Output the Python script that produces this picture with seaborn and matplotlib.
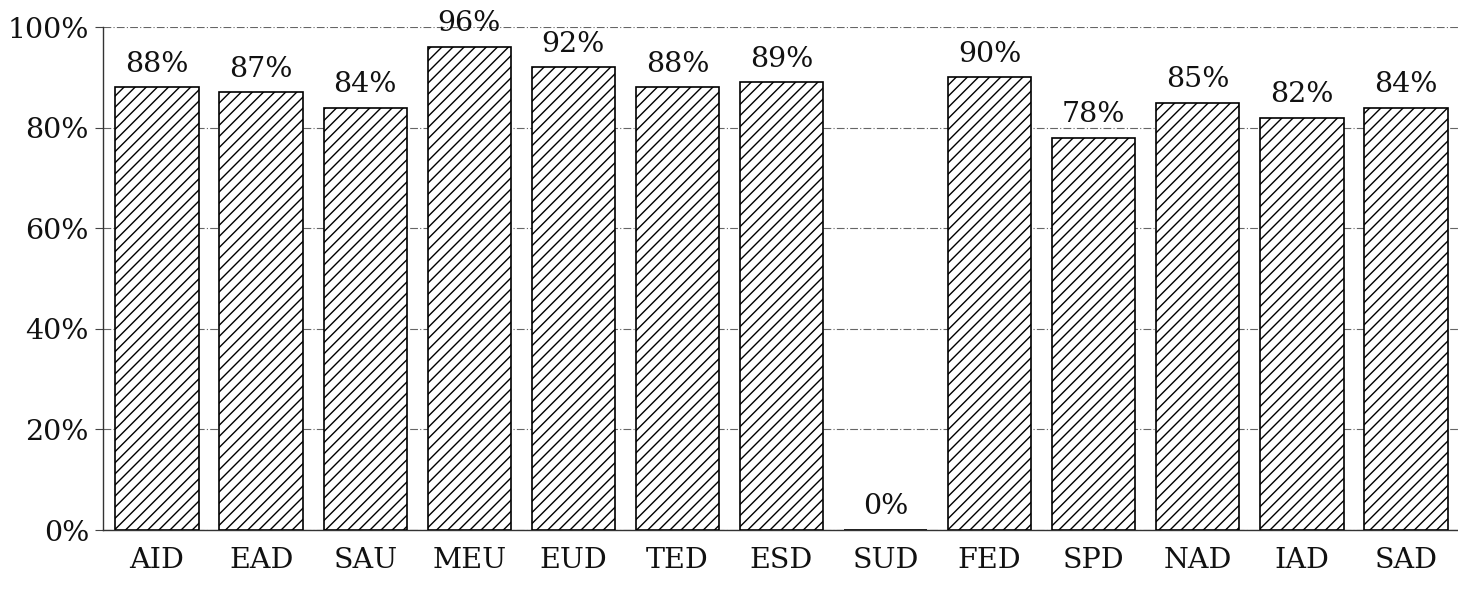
import matplotlib
matplotlib.use("Agg")
import matplotlib.pyplot as plt
import seaborn as sns

categories = ["AID", "EAD", "SAU", "MEU", "EUD", "TED", "ESD",
              "SUD", "FED", "SPD", "NAD", "IAD", "SAD"]
values = [88, 87, 84, 96, 92, 88, 89, 0, 90, 78, 85, 82, 84]
yticks = [0, 20, 40, 60, 80, 100]

sns.set_theme(style="white")
plt.rcParams['font.family'] = ['DejaVu Serif']
plt.rcParams['hatch.linewidth'] = 1.0
plt.rcParams['hatch.color'] = 'black'

fig = plt.figure(figsize=(14.58, 6.01), dpi=100)
ax = fig.add_axes([0.0706, 0.118, 0.9294, 0.837])

sns.barplot(x=categories, y=values, color="white", edgecolor="black",
            linewidth=1.2, hatch="///", width=0.8, saturation=1, ax=ax, zorder=3)

ax.bar_label(ax.containers[0], labels=[f"{v}%" for v in values],
             padding=7, fontsize=20.5, color="#111111")

ax.set_ylim(0, 100)
ax.set_xlim(-0.52, 12.5)
ax.set_yticks(yticks)
ax.set_yticklabels([f"{t}%" for t in yticks], fontsize=20.5, color="#111111")
ax.tick_params(axis="x", labelsize=20.5, length=0, pad=12, labelcolor="#111111")
ax.tick_params(axis="y", length=6, width=0.8, color="#444444", pad=4, left=True)
ax.set_xlabel("")
ax.set_ylabel("")

ax.yaxis.grid(True, color="0.4", linestyle=(0, (7, 2, 1, 2)), linewidth=0.8, zorder=0)
ax.set_axisbelow(True)
sns.despine(ax=ax, top=True, right=True)
ax.spines["left"].set_color("#333333")
ax.spines["bottom"].set_color("#333333")
ax.spines["left"].set_linewidth(1.0)
ax.spines["bottom"].set_linewidth(1.0)

fig.savefig("out.png", dpi=100, facecolor="white")
